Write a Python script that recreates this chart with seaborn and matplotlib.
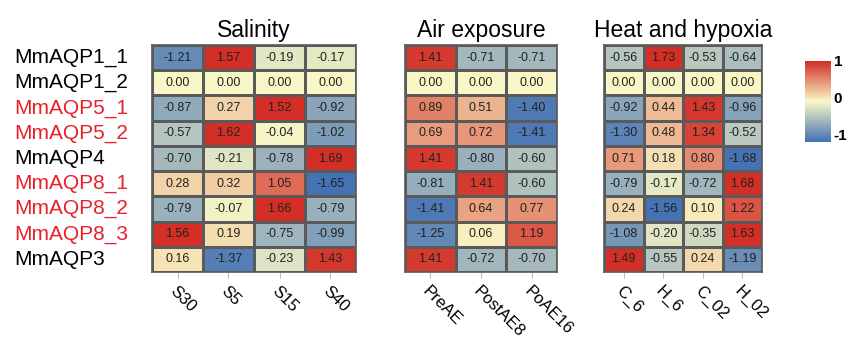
import numpy as np
import pandas as pd
import matplotlib
matplotlib.use("Agg")
import matplotlib.pyplot as plt
import seaborn as sns
from matplotlib.colors import LinearSegmentedColormap

# data
genes = ["MmAQP1_1", "MmAQP1_2", "MmAQP5_1", "MmAQP5_2", "MmAQP4",
         "MmAQP8_1", "MmAQP8_2", "MmAQP8_3", "MmAQP3"]
red_genes = ["MmAQP5_1", "MmAQP5_2", "MmAQP8_1", "MmAQP8_2", "MmAQP8_3"]

salinity_cols = ["S30", "S5", "S15", "S40"]
salinity = [
    [-1.21, 1.57, -0.19, -0.17],
    [0.00, 0.00, 0.00, 0.00],
    [-0.87, 0.27, 1.52, -0.92],
    [-0.57, 1.62, -0.04, -1.02],
    [-0.70, -0.21, -0.78, 1.69],
    [0.28, 0.32, 1.05, -1.65],
    [-0.79, -0.07, 1.66, -0.79],
    [1.56, 0.19, -0.75, -0.99],
    [0.16, -1.37, -0.23, 1.43],
]

air_cols = ["PreAE", "PostAE8", "PoAE16"]
air = [
    [1.41, -0.71, -0.71],
    [0.00, 0.00, 0.00],
    [0.89, 0.51, -1.40],
    [0.69, 0.72, -1.41],
    [1.41, -0.80, -0.60],
    [-0.81, 1.41, -0.60],
    [-1.41, 0.64, 0.77],
    [-1.25, 0.06, 1.19],
    [1.41, -0.72, -0.70],
]

heat_cols = ["C_6", "H_6", "C_02", "H_02"]
heat = [
    [-0.56, 1.73, -0.53, -0.64],
    [0.00, 0.00, 0.00, 0.00],
    [-0.92, 0.44, 1.43, -0.96],
    [-1.30, 0.48, 1.34, -0.52],
    [0.71, 0.18, 0.80, -1.68],
    [-0.79, -0.17, -0.72, 1.68],
    [0.24, -1.56, 0.10, 1.22],
    [-1.08, -0.20, -0.35, 1.63],
    [1.49, -0.55, 0.24, -1.19],
]

titles = ["Salinity", "Air exposure", "Heat and hypoxia"]

plt.rcParams['font.family'] = ['Liberation Sans', 'DejaVu Sans']

cmap = LinearSegmentedColormap.from_list("aqp", ["#4472B3", "#F9F8C6", "#D42F26"])

W, H = 848, 338
fig = plt.figure(figsize=(W / 100, H / 100), dpi=100)

def px_axes(x0, y0, x1, y1):
    return fig.add_axes([x0 / W, 1 - y1 / H, (x1 - x0) / W, (y1 - y0) / H])

boxes = [(152, 45, 356, 272), (405, 45, 557, 272), (604, 45, 762, 272)]
panels = [(salinity, salinity_cols), (air, air_cols), (heat, heat_cols)]

for i, ((vals, cols), box, title) in enumerate(zip(panels, boxes, titles)):
    ax = px_axes(*box)
    df = pd.DataFrame(vals, index=genes, columns=cols)
    sns.heatmap(df, ax=ax, cmap=cmap, vmin=-1.5, vmax=1.5, cbar=False,
                annot=True, fmt=".2f", annot_kws={"size": 9, "color": "#222222"},
                linewidths=1, linecolor="#5a5a5a")
    for s in ax.spines.values():
        s.set_visible(True)
        s.set_color("#5a5a5a")
        s.set_linewidth(1.2)
    ax.set_title(title, fontsize=16.5, pad=6)
    ax.set_xlabel("")
    ax.set_ylabel("")
    ax.tick_params(axis="x", length=4, color="#bbbbbb", pad=4)
    ax.set_xticklabels(cols, rotation=-45, ha="left", va="top",
                       rotation_mode="anchor", fontsize=12)
    if i == 0:
        # left-aligned gene names starting near the figure edge
        ax.tick_params(axis="y", length=0, pad=(152 - 14) * 0.72)
        ax.set_yticklabels(genes, rotation=0, fontsize=15, ha="left")
        for lab in ax.get_yticklabels():
            if lab.get_text() in red_genes:
                lab.set_color("#E8202A")
    else:
        ax.set_yticks([])

# colour key
cax = px_axes(805, 61, 831, 142)
grad = np.linspace(1.0, -1.2, 200).reshape(-1, 1)
cax.imshow(grad, aspect="auto", cmap=cmap, vmin=-1.2, vmax=1.0,
           extent=[0, 1, -1.2, 1.0])
cax.set_xticks([])
cax.yaxis.tick_right()
cax.set_yticks([1, 0, -1])
cax.set_yticklabels(["1", "0", "-1"], fontsize=11, fontweight="bold")
cax.tick_params(axis="y", length=0, pad=2)
for s in cax.spines.values():
    s.set_visible(False)

fig.savefig("out.png", dpi=100)
